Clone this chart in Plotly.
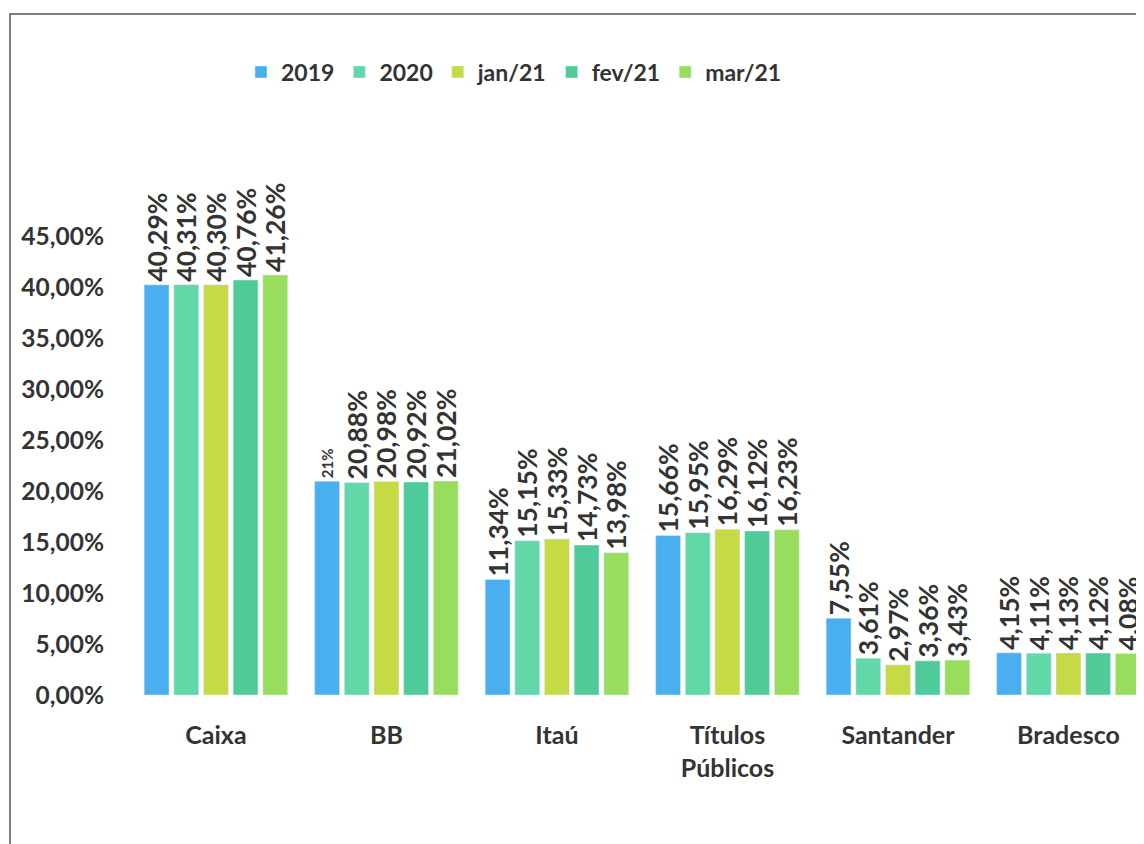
import plotly.graph_objects as go

categories = ["Caixa", "BB", "Itaú", "Títulos<br>Públicos", "Santander", "Bradesco"]
series_names = ["2019", "2020", "jan/21", "fev/21", "mar/21"]
v2019 = [40.29, 21.00, 11.34, 15.66, 7.55, 4.15]
v2020 = [40.31, 20.88, 15.15, 15.95, 3.61, 4.11]
vjan21 = [40.30, 20.98, 15.33, 16.29, 2.97, 4.13]
vfev21 = [40.76, 20.92, 14.73, 16.12, 3.36, 4.12]
vmar21 = [41.26, 21.02, 13.98, 16.23, 3.43, 4.08]
colors = ["#4AAFEF", "#62D8A9", "#C5DA45", "#4FCB9A", "#98DD5E"]
y_ticks = [0, 5, 10, 15, 20, 25, 30, 35, 40, 45]

all_values = [v2019, v2020, vjan21, vfev21, vmar21]

def fmt(v):
    return f"{v:.2f}".replace(".", ",") + "%"

FONT = "Lato"
TXT = "#333333"

fig = go.Figure()
for name, vals, col in zip(series_names, all_values, colors):
    texts = [fmt(v) for v in vals]
    sizes = [26.5] * len(vals)
    if name == "2019":
        texts[1] = "21%"
        sizes[1] = 15
    fig.add_trace(go.Bar(
        name=name, x=list(range(len(categories))), y=vals, marker_color=col,
        text=texts, textposition="outside", textangle=-90,
        textfont=dict(family=FONT, size=sizes, color=TXT, weight="bold"),
        constraintext="none", cliponaxis=False,
    ))

# page body has an 8px offset; positions below are in figure pixels
OFF = 8
W, H = 1144 - OFF, 844 - OFF
ML, MT = 115 - OFF, 165 - OFF
BOTTOM = 695 - OFF
MB = H - BOTTOM
pw = W - ML
ph = H - MT - MB

def px_to_paper_x(px):
    return (px - OFF - ML) / pw

def px_to_paper_y(py):
    return (BOTTOM - (py - OFF)) / ph

fig.update_layout(
    width=W, height=H,
    margin=dict(l=ML, r=0, t=MT, b=MB),
    paper_bgcolor="white", plot_bgcolor="white",
    separators=",.",
    barmode="group", bargap=0.13, bargroupgap=0.16,
    font=dict(family=FONT, color=TXT, size=24, weight="bold"),
    legend=dict(orientation="h", x=px_to_paper_x(514), xanchor="center",
                y=px_to_paper_y(72), yanchor="middle",
                font=dict(family=FONT, size=23, color=TXT, weight="bold"),
                itemwidth=30, traceorder="normal"),
    xaxis=dict(tickmode="array", tickvals=list(range(len(categories))), ticktext=categories,
               range=[-0.592, -0.592 + pw / 170.5], showgrid=False, zeroline=False,
               showline=False, ticks="", ticklabelstandoff=23,
               tickfont=dict(family=FONT, size=25, color=TXT, weight="bold")),
    yaxis=dict(range=[0, ph / 10.18], tickmode="array", tickvals=y_ticks,
               ticktext=[f"{t:.2f}".replace(".", ",") + "%" for t in y_ticks],
               showgrid=False, zeroline=False, showline=False, ticks="",
               ticklabelstandoff=10,
               tickfont=dict(family=FONT, size=24.5, color=TXT, weight="bold")),
    shapes=[dict(type="path", xref="paper", yref="paper",
                 path=f"M {px_to_paper_x(10)},{px_to_paper_y(860)} L {px_to_paper_x(10)},{px_to_paper_y(14)} L {px_to_paper_x(1160)},{px_to_paper_y(14)}",
                 line=dict(color="#555555", width=1.5))],
)

fig.write_html("out.html")
